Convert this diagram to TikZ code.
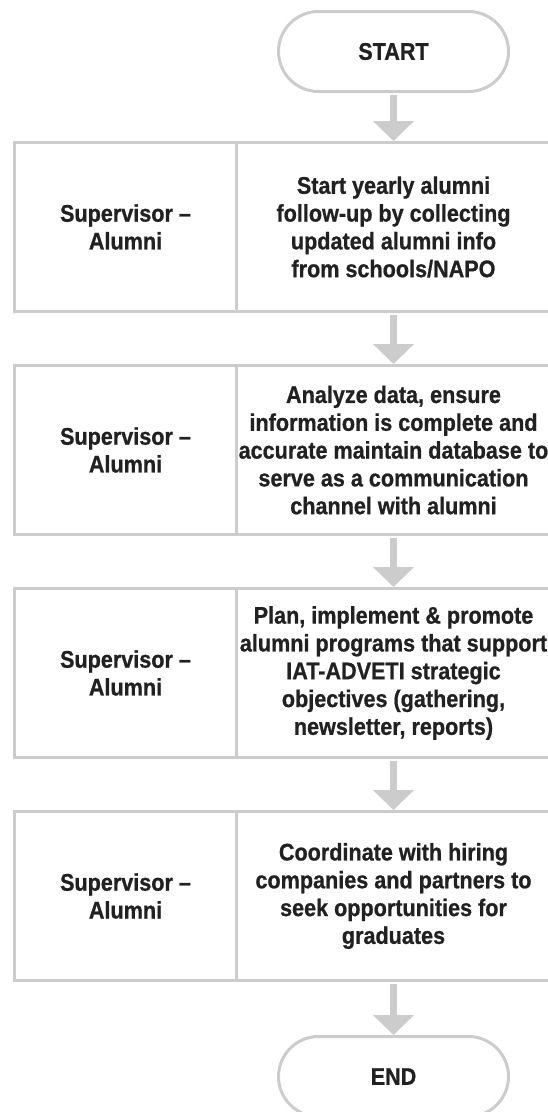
\documentclass[tikz,border=0pt]{standalone}
\usepackage{fontspec}
\setmainfont{Liberation Sans}[FakeStretch=0.9,BoldFeatures={FakeBold=0.8}]
\usetikzlibrary{arrows.meta,positioning}
\definecolor{edgegray}{HTML}{CCCCCC}
\definecolor{inkdark}{HTML}{212121}
\tikzset{
  term/.style={draw=edgegray,line width=3bp,rounded corners=40bp,minimum width=230bp,minimum height=80bp,font=\bfseries\fontsize{24bp}{28bp}\selectfont,text=inkdark},
  task/.style={draw=edgegray,line width=3bp,align=center,minimum width=314bp,minimum height=169bp,inner sep=1bp,font=\bfseries\fontsize{24bp}{27.8bp}\selectfont,text=inkdark},
  role/.style={task,minimum width=222bp},
  flow/.style={-{Triangle[width=40bp,length=20bp]},line width=7bp,color=edgegray,shorten <=2bp},
}

\begin{document}
\begin{tikzpicture}[x=1bp,y=1bp]
  \useasboundingbox (0,0) rectangle (548,-1112);
  \node[term] (start) at (393.5,-51.5) {START};
  \node[task,below=48bp of start] (t1) {Start yearly alumni\\follow-up by collecting\\updated alumni info\\from schools/NAPO};
  \node[task,below=51bp of t1] (t2) {Analyze data, ensure\\information is complete and\\accurate maintain database to\\serve as a communication\\channel with alumni};
  \node[task,below=51bp of t2] (t3) {Plan, implement \& promote\\alumni programs that support\\IAT-ADVETI strategic\\objectives (gathering,\\newsletter, reports)};
  \node[task,below=51bp of t3] (t4) {Coordinate with hiring\\companies and partners to\\seek opportunities for\\graduates};
  \node[term,below=53bp of t4] (stop) {END};
  % role column
  \foreach \i in {1,...,4}
    \node[role,left=-3bp of t\i] (r\i) {Supervisor --\\Alumni};
  \foreach \a/\b in {start/t1,t1/t2,t2/t3,t3/t4,t4/stop} \draw[flow] (\a) -- (\b);
\end{tikzpicture}
\end{document}
